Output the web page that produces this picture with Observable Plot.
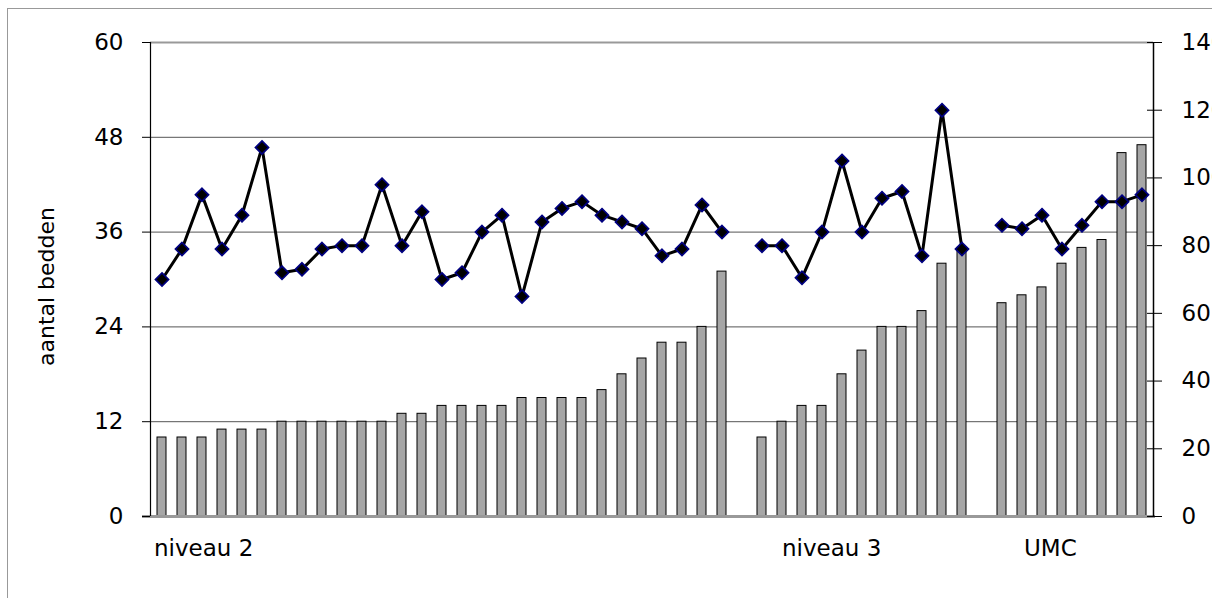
<!DOCTYPE html>
<html>
<head>
<meta charset="utf-8">
<script src="https://cdn.jsdelivr.net/npm/d3@7"></script>
<script src="https://cdn.jsdelivr.net/npm/@observablehq/plot@0.6"></script>
<style>
  html, body { margin: 0; padding: 0; background: #fff; overflow: hidden; }
  #chart { position: absolute; left: 0; top: 0; }
  #frame { position: absolute; left: 7px; top: 8px; width: 1400px; height: 800px;
           border-left: 1px solid #999; border-top: 1px solid #999; pointer-events: none; z-index: 2; }
</style>
</head>
<body>
<div id="frame"></div>
<div id="chart"></div>
<script>
// Groups (categories) shown under the axis
const groups = ["niveau 2", "niveau 3", "UMC"];

// Number of beds per ward (left axis, bars)
const bedsNiveau2 = [10,10,10,11,11,11,12,12,12,12,12,12,13,13,14,14,14,14,15,15,15,15,16,18,20,22,22,24,31];
const bedsNiveau3 = [10,12,14,14,18,21,24,24,26,32,34];
const bedsUMC     = [27,28,29,32,34,35,46,47];

// Line series (right axis, 0–140)
const lineNiveau2 = [70,79,95,79,89,109,72,73,79,80,80,98,80,90,70,72,84,89,65,87,91,93,89,87,85,77,79,92,84];
const lineNiveau3 = [80,80,70.5,84,105,84,94,96,77,120,79];
const lineUMC     = [86,85,89,79,86,93,93,95];

// Tick labels
const leftTicks  = [0, 12, 24, 36, 48, 60];
const rightTicks = [0, 20, 40, 60, 80, 100, 120, 140];

const LEFT_MAX = 60, RIGHT_MAX = 140;
const toLeft = v => v * LEFT_MAX / RIGHT_MAX;

// Build rows: one slot per ward, one empty slot between groups
const seriesBeds = [bedsNiveau2, bedsNiveau3, bedsUMC];
const seriesLine = [lineNiveau2, lineNiveau3, lineUMC];
const rows = [];
const firstSlot = {};
let slot = 0;
groups.forEach((g, gi) => {
  firstSlot[g] = slot;
  seriesBeds[gi].forEach((b, k) => {
    rows.push({slot, group: g, beds: b, value: seriesLine[gi][k]});
    slot++;
  });
  if (gi < groups.length - 1) slot++;
});
const nSlots = slot;

const W = 1212, H = 598, ML = 150, MR = 59, MT = 42, MB = 82;
const halfPlot = (W - ML - MR) / 2;
const font = "DejaVu Sans, Verdana, sans-serif";
const FS = 23;

const chart = Plot.plot({
  width: W,
  height: H,
  marginLeft: ML,
  marginRight: MR,
  marginTop: MT,
  marginBottom: MB,
  style: {fontFamily: font, fontSize: FS + "px", color: "#000", background: "none", overflow: "visible"},
  x: {type: "band", domain: d3.range(nSlots), paddingInner: 0.56, paddingOuter: 0.28, axis: null},
  y: {domain: [0, LEFT_MAX], axis: null},
  marks: [
    // gridlines
    Plot.ruleY(leftTicks.filter(t => t > 0 && t < LEFT_MAX), {stroke: "#555", strokeWidth: 1}),
    Plot.ruleY([LEFT_MAX], {stroke: "#999", strokeWidth: 2}),
    // bars
    Plot.barY(rows, {x: "slot", y: "beds", fill: "#a6a6a6", stroke: "#000", strokeWidth: 1}),
    // baseline
    Plot.ruleY([0], {stroke: "#999", strokeWidth: 3, insetLeft: -8, insetRight: -2}),
    // axis lines (left and right edges of the plot area)
    Plot.ruleX([0], {x: null, y1: 0, y2: LEFT_MAX, dx: -halfPlot, stroke: "#000", strokeWidth: 1.2}),
    Plot.ruleX([0], {x: null, y1: 0, y2: LEFT_MAX, dx: halfPlot, stroke: "#000", strokeWidth: 1.5}),
    // left axis
    Plot.axisY(leftTicks, {anchor: "left", tickSize: 8, tickPadding: 19, fontSize: FS, label: null}),
    // right axis (values 0–140 mapped onto the left scale)
    Plot.axisY(rightTicks.map(toLeft), {anchor: "right", tickSize: 15, dx: -7, tickPadding: 20, fontSize: FS,
      tickFormat: d => String(Math.round(d * RIGHT_MAX / LEFT_MAX)), label: null}),
    // line + diamonds
    Plot.line(rows, {x: "slot", y: d => toLeft(d.value), z: "group", stroke: "#000", strokeWidth: 3}),
    Plot.dot(rows, {x: "slot", y: d => toLeft(d.value), symbol: "diamond2", r: 5.9,
      fill: "#000", stroke: "#000080", strokeWidth: 1.7}),
    // group labels
    Plot.text([groups[0]], {x: () => firstSlot[groups[0]], frameAnchor: "bottom", dy: 39, dx: -8, textAnchor: "start", fontSize: FS}),
    Plot.text([groups[1]], {x: () => firstSlot[groups[1]] + 1, frameAnchor: "bottom", dy: 39, dx: 0, textAnchor: "start", fontSize: FS}),
    Plot.text([groups[2]], {x: () => firstSlot[groups[2]] + 1, frameAnchor: "bottom", dy: 39, dx: 2, textAnchor: "start", fontSize: FS}),
    // y axis title
    Plot.text(["aantal bedden"], {frameAnchor: "left", textAnchor: "middle", rotate: -90, dx: -104, dy: 7, fontSize: 22})
  ]
});
document.getElementById("chart").appendChild(chart);
</script>
</body>
</html>
